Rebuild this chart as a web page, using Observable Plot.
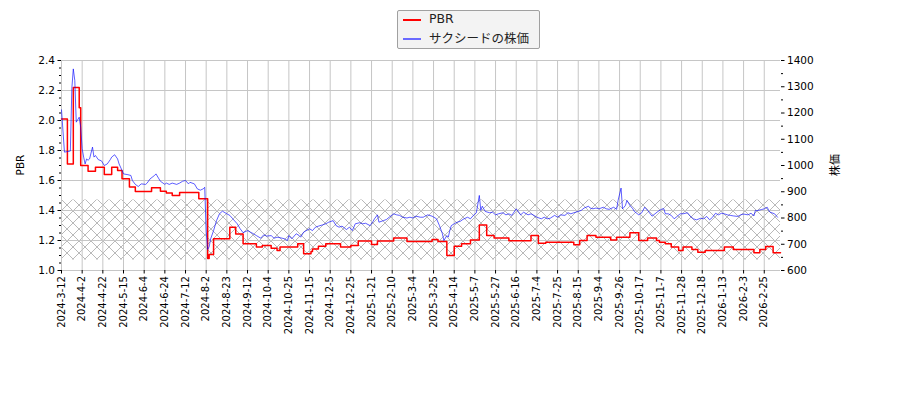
<!DOCTYPE html>
<html><head><meta charset="utf-8">
<script src="https://cdn.jsdelivr.net/npm/d3@7"></script>
<script src="https://cdn.jsdelivr.net/npm/@observablehq/plot@0.6"></script>
<style>
body{margin:0;background:#fff;font-family:"DejaVu Sans",sans-serif;}
#wrap{position:relative;width:900px;height:400px;overflow:hidden;}
#legend{position:absolute;left:397px;top:10px;width:141px;height:37px;border:1px solid #a0a0a0;background:#f3f3f3;border-radius:2px;font-size:12.5px;color:#222;}
#legend .row{position:absolute;left:0;height:16px;width:141px;}
#legend .sw{position:absolute;left:5px;top:8px;width:18px;height:0;}
#legend .lb{position:absolute;left:31px;top:0;line-height:16px;white-space:nowrap;}
</style></head>
<body><div id="wrap"><div id="chart"></div>
<div id="legend">
 <div class="row" style="top:0px"><div class="sw" style="border-top:2px solid #ff0000"></div><div class="lb">PBR</div></div>
 <div class="row" style="top:19px"><div class="sw" style="border-top:2px solid #6a6aff"></div><div class="lb" style="font-family:'Noto Sans CJK JP','DejaVu Sans',sans-serif">サクシードの株価</div></div>
</div></div>
<script>
// ---- data ----
const tickLabels = ["2024-3-12","2024-4-2","2024-4-22","2024-5-15","2024-6-4","2024-6-24","2024-7-12","2024-8-2","2024-8-23","2024-9-12","2024-10-4","2024-10-25","2024-11-15","2024-12-5","2024-12-25","2025-1-21","2025-2-10","2025-3-4","2025-3-25","2025-4-14","2025-5-7","2025-5-27","2025-6-16","2025-7-4","2025-7-25","2025-8-15","2025-9-4","2025-9-26","2025-10-17","2025-11-7","2025-11-28","2025-12-18","2026-1-13","2026-2-3","2026-2-25"];
const tickDays = [0,14,28,42,56,70,84,98,112,126,140,154,168,182,196,210,224,238,252,266,280,294,308,322,336,350,364,378,392,406,420,434,448,462,476];
const dayRange = [0, 487];
const pbrTicks = [1.0,1.2,1.4,1.6,1.8,2.0,2.2,2.4];
const pbrMinorTicks = [1.05,1.1,1.15,1.25,1.3,1.35,1.45,1.5,1.55,1.65,1.7,1.75,1.85,1.9,1.95,2.05,2.1,2.15,2.25,2.3,2.35];
const priceTicks = [600,700,800,900,1000,1100,1200,1300,1400];
const priceMinorTicks = [650,750,850,950,1050,1150,1250,1350];
const bandRange = [1.07, 1.47];

const priceDays = [0,2,6,7,8,9,10,12,13,14,15,16,17,18,19,21,22,23,25,27,29,31,33,34,36,38,39,41,42,45,47,48,50,52,54,57,58,60,63,64,66,67,70,71,73,75,78,80,82,84,86,87,90,92,94,96,97,98,99,100,101,103,105,107,109,112,114,116,119,121,123,126,128,130,132,135,137,139,142,144,146,148,151,153,154,156,159,161,162,164,168,170,172,174,177,179,181,184,186,188,190,193,195,197,199,202,204,206,209,211,212,214,215,218,220,222,225,227,229,231,234,236,238,240,243,245,246,248,251,254,256,258,259,261,262,263,264,266,268,270,272,275,277,279,281,283,284,285,286,287,290,292,294,296,299,301,303,305,308,310,311,313,316,318,320,322,325,327,329,331,334,336,338,341,343,345,347,350,352,354,357,358,360,362,364,367,369,371,374,376,377,379,380,381,382,383,385,387,388,391,393,395,397,400,402,404,407,408,409,411,413,415,417,419,421,424,426,428,430,433,435,437,439,441,443,445,447,449,451,453,455,458,460,462,465,467,469,470,471,474,476,478,479,480,483,485,486];
const priceValues = [1212,1051,1055,1293,1368,1324,1165,1184,1146,1064,1032,1006,1025,1020,1025,1070,1032,1038,1022,1018,1000,1006,1022,1032,1041,1025,1006,981,968,965,962,943,928,920,930,928,933,949,962,968,949,940,928,933,928,933,928,933,940,943,930,936,930,911,906,911,917,750,680,690,720,752,790,816,826,816,810,797,778,759,744,752,746,740,733,723,736,731,733,723,727,725,721,714,733,721,740,733,727,746,759,752,765,769,774,778,784,790,771,765,769,756,765,752,778,782,778,780,771,787,797,812,784,790,794,803,816,812,810,803,800,803,800,807,803,803,806,812,807,797,771,740,714,733,727,752,771,778,784,787,795,803,797,810,820,886,829,845,835,825,820,822,812,816,820,812,816,810,835,820,812,822,812,816,810,803,797,803,797,799,810,803,812,810,820,816,820,825,829,838,845,838,835,838,835,841,835,833,841,833,867,914,835,841,848,867,848,835,825,812,820,841,829,807,816,825,835,835,816,816,810,797,806,816,816,820,806,797,793,799,797,806,793,803,818,812,818,816,812,810,808,806,812,815,812,818,808,829,828,832,835,841,829,822,816,803];

const pbrDays = [0,4,8,12,13,18,23,29,34,38,41,46,50,61,67,71,75,80,93,99,100,103,114,118,123,132,136,142,146,148,160,164,169,170,174,179,189,196,201,210,214,225,234,251,255,261,266,271,277,283,288,293,303,318,323,328,347,351,356,362,372,376,385,391,397,403,405,409,413,418,421,427,431,436,449,455,469,473,477,482,487];
const pbrValues = [2.01,1.71,2.22,2.085,1.70,1.662,1.689,1.64,1.689,1.667,1.611,1.556,1.527,1.551,1.529,1.516,1.50,1.52,1.478,1.08,1.107,1.211,1.289,1.244,1.178,1.156,1.167,1.149,1.133,1.156,1.178,1.111,1.127,1.144,1.162,1.178,1.156,1.167,1.196,1.173,1.196,1.216,1.193,1.207,1.193,1.10,1.162,1.178,1.204,1.304,1.233,1.216,1.198,1.233,1.182,1.189,1.171,1.20,1.233,1.222,1.204,1.222,1.251,1.20,1.216,1.20,1.189,1.178,1.156,1.133,1.156,1.14,1.122,1.133,1.156,1.14,1.118,1.14,1.16,1.118,1.118];

// ---- build ----
const pbrLo = pbrTicks[0], pbrHi = pbrTicks[pbrTicks.length-1];
const pLo = priceTicks[0], pHi = priceTicks[priceTicks.length-1];
const toLeft = p => pbrLo + (p - pLo) * (pbrHi - pbrLo) / (pHi - pLo);
const fromLeft = v => pLo + (v - pbrLo) * (pHi - pLo) / (pbrHi - pbrLo);
const priceData = priceDays.map((d,i)=>({day:d, price:priceValues[i]}));
const pbrData = pbrDays.map((d,i)=>({day:d, pbr:pbrValues[i]}));
const labelOf = new Map(tickDays.map((d,i)=>[d, tickLabels[i]]));
const band = [{x1:dayRange[0], x2:dayRange[1], y1:bandRange[0], y2:bandRange[1]}];

const chart = Plot.plot({
  width:900, height:400,
  marginLeft:61, marginRight:120, marginTop:60, marginBottom:130,
  x:{domain:dayRange},
  y:{domain:[pbrLo,pbrHi]},
  style:{fontFamily:"DejaVu Sans, sans-serif", fontSize:"10px", background:"transparent", color:"#000", overflow:"visible"},
  marks:[
    Plot.rect(band, {x1:"x1", x2:"x2", y1:"y1", y2:"y2", fill:"url(#hatch)"}),
    Plot.gridX({ticks:tickDays, stroke:"#c6c6c6", strokeOpacity:1, strokeWidth:1}),
    Plot.gridY({ticks:pbrTicks, stroke:"#c6c6c6", strokeOpacity:1, strokeWidth:1}),
    Plot.line(pbrData, {x:"day", y:"pbr", curve:"step-after", stroke:"#ff0000", strokeWidth:1.5}),
    Plot.line(priceData, {x:"day", y:d=>toLeft(d.price), stroke:"#0000ff", strokeOpacity:0.75, strokeWidth:0.85}),
    Plot.axisY({anchor:"left", ticks:pbrTicks, tickFormat:d=>d.toFixed(1), tickSize:3.5, tickPadding:3, line:true, label:null, fontSize:10.5}),
    Plot.axisY({anchor:"left", ticks:pbrMinorTicks, tickFormat:()=>"", tickSize:2, label:null}),
    Plot.axisY({anchor:"right", ticks:priceTicks.map(toLeft), tickFormat:v=>String(Math.round(fromLeft(v))), tickSize:3.5, tickPadding:3, line:true, label:null, fontSize:10.5}),
    Plot.axisY({anchor:"right", ticks:priceMinorTicks.map(toLeft), tickFormat:()=>"", tickSize:2, label:null}),
    Plot.axisX({ticks:tickDays, tickFormat:d=>labelOf.get(d), tickRotate:-90, tickSize:3.5, tickPadding:2, line:true, label:null, fontSize:10})
  ]
});
document.getElementById("chart").appendChild(chart);

const svg = d3.select(chart);
const defs = svg.insert("defs", ":first-child");
const pat = defs.append("pattern").attr("id","hatch").attr("patternUnits","userSpaceOnUse")
  .attr("width",12).attr("height",12).attr("x",61).attr("y",199);
pat.append("path").attr("d","M0,0L12,12M12,0L0,12").attr("stroke","#8a8a8a").attr("stroke-width",0.6).attr("fill","none");

svg.append("text").attr("transform","translate(21,165) rotate(-90)").attr("text-anchor","middle")
  .attr("dominant-baseline","middle").attr("font-size",10.5).attr("fill","#000").text("PBR");
svg.append("text").attr("transform","translate(836,165) rotate(-90)").attr("text-anchor","middle")
  .attr("dominant-baseline","middle").attr("font-size",11).attr("fill","#000")
  .attr("font-family","'Noto Sans CJK JP', sans-serif").text("株価");
</script></body></html>
